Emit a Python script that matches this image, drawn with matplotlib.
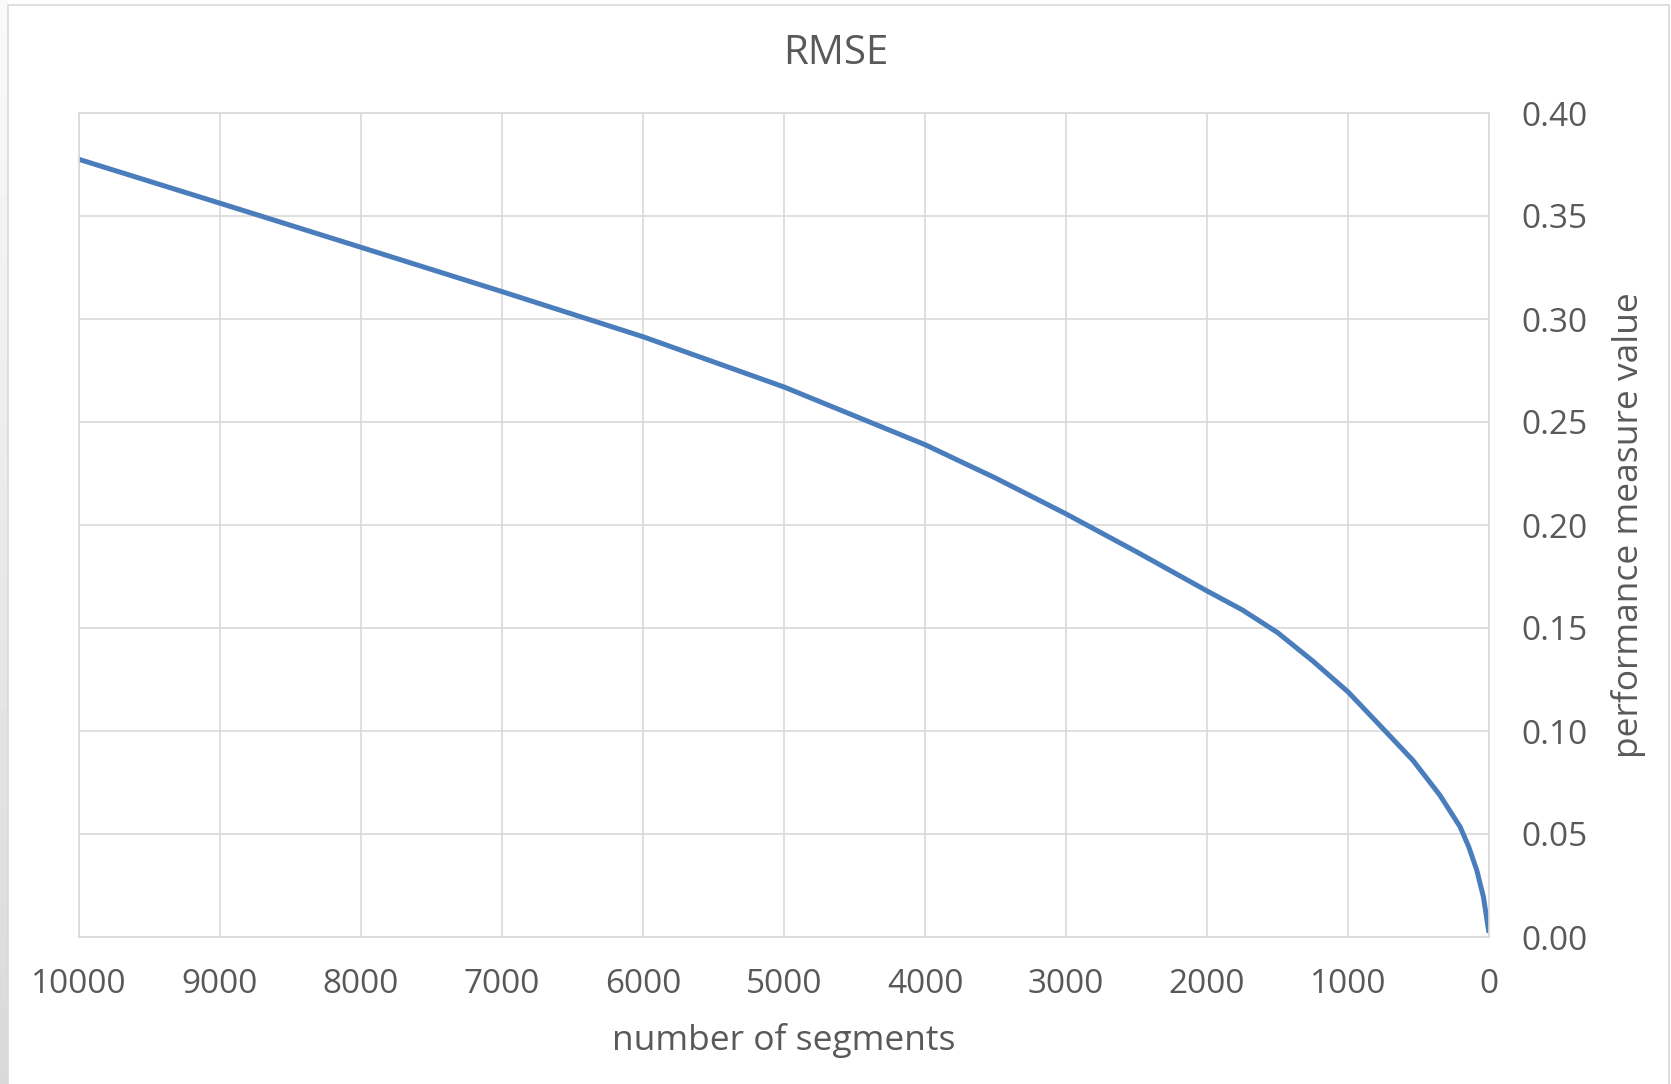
import numpy as np
import matplotlib.pyplot as plt
from matplotlib.patches import Rectangle

# RMSE against number of segments
segments = [10000, 9000, 8000, 7000, 6000, 5000, 4500, 4000, 3500, 3000,
            2500, 2000, 1750, 1500, 1250, 1000, 750, 540, 350, 205,
            145, 87, 40, 16, 0]
rmse = [0.3775, 0.3562, 0.3348, 0.3133, 0.2914, 0.2670, 0.2530, 0.2390, 0.2228, 0.2054,
        0.1870, 0.1680, 0.1588, 0.1478, 0.1340, 0.1190, 0.1010, 0.0858, 0.0690, 0.0535,
        0.0440, 0.0325, 0.0196, 0.0090, 0.0020]

xticks = [10000, 9000, 8000, 7000, 6000, 5000, 4000, 3000, 2000, 1000, 0]
yticks = [0.00, 0.05, 0.10, 0.15, 0.20, 0.25, 0.30, 0.35, 0.40]

plt.rcParams['font.family'] = ['Open Sans', 'DejaVu Sans']
txt = '#595959'
grid = '#d9d9d9'

W, H = 1671, 1084
fig = plt.figure(figsize=(W/100, H/100), dpi=100)

# grey strip down the left edge
strip = fig.add_axes([0, 0, 8/W, 1])
strip.imshow(np.linspace(0.98, 0.85, 200).reshape(-1, 1), cmap='gray', vmin=0, vmax=1,
             aspect='auto', extent=[0, 1, 0, 1])
strip.set_axis_off()

# chart frame
fig.patches.append(Rectangle((8/W, -0.01), (1669-8)/W, 1 - 5/H + 0.01,
                             transform=fig.transFigure, fill=False,
                             edgecolor=grid, linewidth=1.2))

ax = fig.add_axes([79/W, 1-937/H, (1489-79)/W, (937-113)/H])
ax.plot(segments, rmse, color='#4a7dbb', linewidth=3.6, solid_capstyle='butt',
        solid_joinstyle='round')

ax.set_xlim(10000, 0)
ax.set_ylim(0, 0.40)
ax.set_xticks(xticks)
ax.set_yticks(yticks)
ax.set_xticklabels([str(v) for v in xticks])
ax.set_yticklabels(['%.2f' % v for v in yticks])
ax.yaxis.tick_right()
ax.yaxis.set_label_position('right')
ax.tick_params(length=0, labelsize=24, colors=txt)
ax.tick_params(axis='x', pad=22)
ax.tick_params(axis='y', pad=23)
ax.grid(True, color=grid, linewidth=1.2)
ax.set_axisbelow(True)
for s in ax.spines.values():
    s.set_color(grid)
    s.set_linewidth(1.2)

ax.set_xlabel('number of segments', fontsize=25.5, color=txt, labelpad=16)
ax.set_ylabel('performance measure value', fontsize=25.5, color=txt, labelpad=17)
fig.text(0.5, 1-54/H, 'RMSE', ha='center', va='center', fontsize=29, color=txt)

fig.savefig('out.png', dpi=100)
